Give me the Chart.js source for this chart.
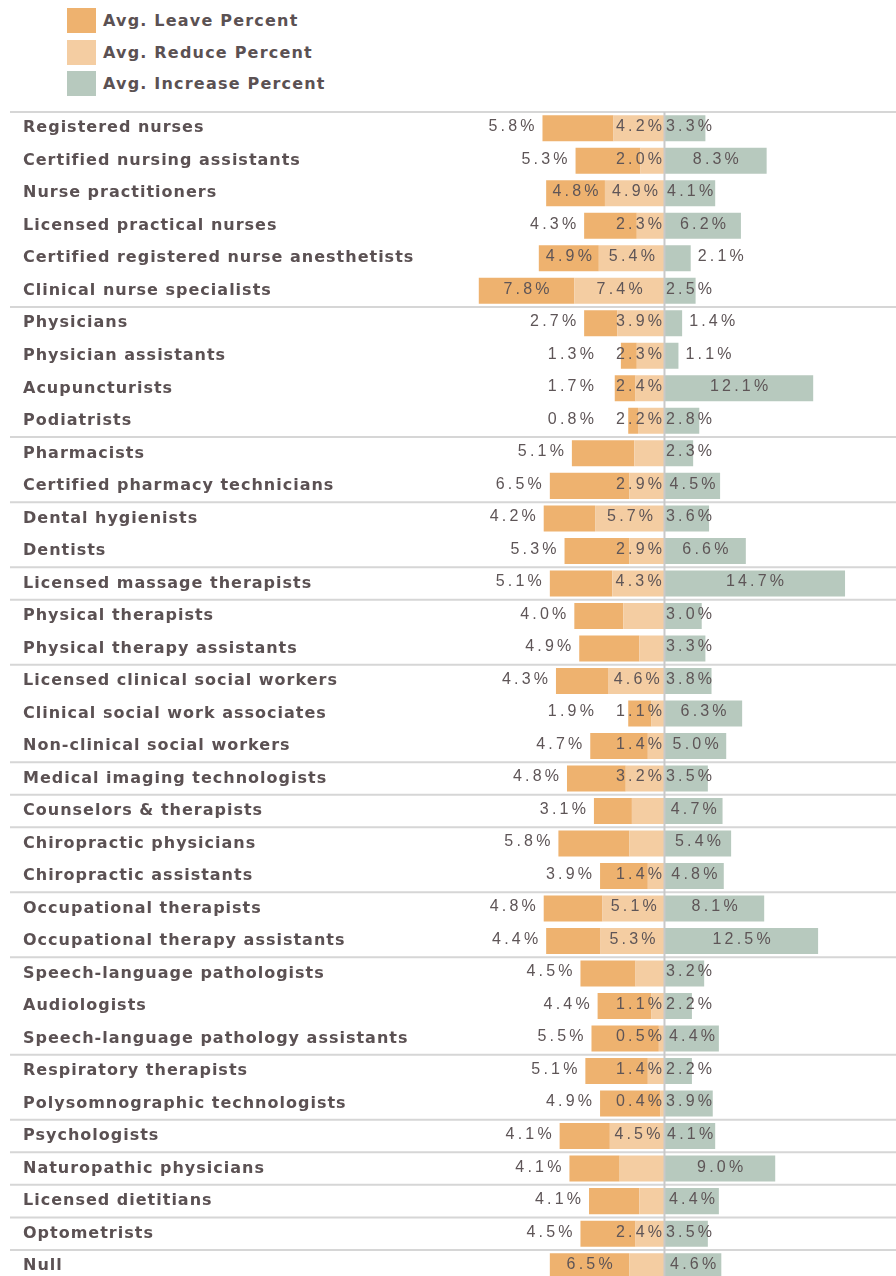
<!DOCTYPE html>
<html>
<head>
<meta charset="utf-8">
<script src="https://cdn.jsdelivr.net/npm/chart.js@4.4.1/dist/chart.umd.min.js"></script>
<style>
    body { margin: 0; background: #fff; overflow: hidden; }
    #legend { position: relative; height: 100px; font-family: "DejaVu Sans", sans-serif; }
    .legend-item { position: absolute; left: 67px; display: flex; align-items: center; font-size: 16px; font-weight: bold; letter-spacing: 1.2px; color: #5b5153; }
    .legend-item span.box { width: 29px; height: 25px; margin-right: 7px; display: inline-block; }
    canvas { display: block; }
</style>
</head>
<body>
<div id="legend"></div>
<canvas id="retentionChart" width="896" height="1192"></canvas>
<script>
const categories = [
    "Registered nurses", "Certified nursing assistants", "Nurse practitioners",
    "Licensed practical nurses", "Certified registered nurse anesthetists",
    "Clinical nurse specialists", "Physicians", "Physician assistants",
    "Acupuncturists", "Podiatrists", "Pharmacists", "Certified pharmacy technicians",
    "Dental hygienists", "Dentists", "Licensed massage therapists",
    "Physical therapists", "Physical therapy assistants",
    "Licensed clinical social workers", "Clinical social work associates",
    "Non-clinical social workers", "Medical imaging technologists",
    "Counselors & therapists", "Chiropractic physicians", "Chiropractic assistants",
    "Occupational therapists", "Occupational therapy assistants",
    "Speech-language pathologists", "Audiologists",
    "Speech-language pathology assistants", "Respiratory therapists",
    "Polysomnographic technologists", "Psychologists", "Naturopathic physicians",
    "Licensed dietitians", "Optometrists", "Null",
];

const leavePercent = [
    5.8, 5.3, 4.8, 4.3, 4.9, 7.8, 2.7, 1.3, 1.7, 0.8, 5.1, 6.5,
    4.2, 5.3, 5.1, 4.0, 4.9, 4.3, 1.9, 4.7, 4.8, 3.1, 5.8, 3.9,
    4.8, 4.4, 4.5, 4.4, 5.5, 5.1, 4.9, 4.1, 4.1, 4.1, 4.5, 6.5,
];
const reducePercent = [
    4.2, 2.0, 4.9, 2.3, 5.4, 7.4, 3.9, 2.3, 2.4, 2.2, 2.5, 2.9,
    5.7, 2.9, 4.3, 3.4, 2.1, 4.6, 1.1, 1.4, 3.2, 2.7, 2.9, 1.4,
    5.1, 5.3, 2.4, 1.1, 0.5, 1.4, 0.4, 4.5, 3.7, 2.1, 2.4, 2.9,
];
const increasePercent = [
    3.3, 8.3, 4.1, 6.2, 2.1, 2.5, 1.4, 1.1, 12.1, 2.8, 2.3, 4.5,
    3.6, 6.6, 14.7, 3.0, 3.3, 3.8, 6.3, 5.0, 3.5, 4.7, 5.4, 4.8,
    8.1, 12.5, 3.2, 2.2, 4.4, 2.2, 3.9, 4.1, 9.0, 4.4, 3.5, 4.6,
];

const seriesNames = ["Avg. Leave Percent", "Avg. Reduce Percent", "Avg. Increase Percent"];
const seriesColors = ["#eeb26f", "#f4cda2", "#b7c9be"];

// a line is drawn under each of these rows
const groupBreaksAfter = [
    "Clinical nurse specialists", "Podiatrists", "Certified pharmacy technicians",
    "Dentists", "Licensed massage therapists", "Physical therapy assistants",
    "Non-clinical social workers", "Medical imaging technologists",
    "Counselors & therapists", "Chiropractic assistants",
    "Occupational therapy assistants", "Speech-language pathology assistants",
    "Polysomnographic technologists", "Psychologists", "Naturopathic physicians",
    "Licensed dietitians", "Optometrists",
];

// label quirks of the original
const leaveLabelInside = [
    "Nurse practitioners", "Certified registered nurse anesthetists",
    "Clinical nurse specialists", "Null",
];
const reduceLabelHidden = [
    "Pharmacists", "Physical therapists", "Physical therapy assistants",
    "Counselors & therapists", "Chiropractic physicians",
    "Speech-language pathologists", "Naturopathic physicians",
    "Licensed dietitians", "Null",
];

const textColor = "#5b5153";
const labelFont = '"DejaVu Sans", sans-serif';
const valueFont = '"Liberation Sans", Arial, sans-serif';

// html legend
const legendDiv = document.getElementById("legend");
seriesNames.forEach((name, i) => {
    const item = document.createElement("div");
    item.className = "legend-item";
    item.style.top = (7 + i * 31.5) + "px";
    item.style.height = "27px";
    item.innerHTML = `<span class="box" style="background:${seriesColors[i]}"></span>${name}`;
    legendDiv.appendChild(item);
});

const fmt = (v) => v.toFixed(1) + "%";

const decorPlugin = {
    id: "decor",
    beforeDraw(chart) {
        chart.ctx.letterSpacing = "1px";
    },
    beforeDatasetsDraw(chart) {
        const ctx = chart.ctx;
        const y = chart.scales.y;
        ctx.save();
        ctx.strokeStyle = "#d6d6d6";
        ctx.lineWidth = 2;
        const half = (y.getPixelForValue(1) - y.getPixelForValue(0)) / 2;
        const lines = [y.getPixelForValue(0) - half];
        groupBreaksAfter.forEach((name) => {
            lines.push(y.getPixelForValue(categories.indexOf(name)) + half);
        });
        lines.forEach((py) => {
            ctx.beginPath();
            ctx.moveTo(10, py);
            ctx.lineTo(chart.width, py);
            ctx.stroke();
        });
        ctx.restore();
    },
    afterDatasetsDraw(chart) {
        const ctx = chart.ctx;
        const x0 = chart.scales.x.getPixelForValue(0);
        ctx.save();
        ctx.strokeStyle = "#c9c9c9";
        ctx.lineWidth = 2;
        ctx.beginPath();
        ctx.moveTo(x0 - 0.5, chart.chartArea.top);
        ctx.lineTo(x0 - 0.5, chart.chartArea.bottom);
        ctx.stroke();
        ctx.restore();
    },
    afterDraw(chart) {
        const ctx = chart.ctx;
        const spacing = 3.2;
        const x0 = chart.scales.x.getPixelForValue(0);
        const leaveMeta = chart.getDatasetMeta(0);
        const reduceMeta = chart.getDatasetMeta(1);
        const incMeta = chart.getDatasetMeta(2);
        ctx.save();
        ctx.font = "16px " + valueFont;
        ctx.letterSpacing = spacing + "px";
        ctx.fillStyle = "#5e5557";
        ctx.textAlign = "left";
        ctx.textBaseline = "middle";
        const width = (t) => ctx.measureText(t).width - spacing;

        categories.forEach((name, i) => {
            const leaveEl = leaveMeta.data[i];
            const reduceEl = reduceMeta.data[i];
            const incEl = incMeta.data[i];
            const py = leaveEl.y - 1.5;

            // reduce label: centred in its segment, kept left of the centre line
            let reduceLeft = null;
            if (!reduceLabelHidden.includes(name)) {
                const t = fmt(reducePercent[i]);
                const w = width(t);
                let left = (reduceEl.x + reduceEl.base) / 2 - w / 2;
                if (left + w > x0 - 3) left = x0 - 3 - w;
                ctx.fillText(t, left, py);
                reduceLeft = left;
            }

            // leave label
            const lt = fmt(leavePercent[i]);
            const lw = width(lt);
            if (leaveLabelInside.includes(name)) {
                ctx.fillText(lt, (leaveEl.x + leaveEl.base) / 2 - lw / 2, py);
            } else {
                let right = leaveEl.x - 8;
                if (reduceLeft !== null) right = Math.min(right, reduceLeft - 22);
                ctx.fillText(lt, right - lw, py);
            }

            // increase label
            const it = fmt(increasePercent[i]);
            const iw = width(it);
            let ileft;
            if (increasePercent[i] < 2.15) {
                ileft = incEl.x + 7;
            } else {
                ileft = Math.max(x0 + 1, (incEl.x + incEl.base) / 2 - iw / 2);
            }
            ctx.fillText(it, ileft, py);
        });
        ctx.restore();
    },
};

const ctx = document.getElementById("retentionChart").getContext("2d");

new Chart(ctx, {
    type: "bar",
    data: {
        labels: categories,
        datasets: [
            {
                label: seriesNames[0],
                data: leavePercent.map((v) => -v),
                backgroundColor: seriesColors[0],
                order: 2,
            },
            {
                label: seriesNames[1],
                data: reducePercent.map((v) => -v),
                backgroundColor: seriesColors[1],
                order: 1,
            },
            {
                label: seriesNames[2],
                data: increasePercent,
                backgroundColor: seriesColors[2],
                order: 3,
            },
        ],
    },
    options: {
        indexAxis: "y",
        responsive: false,
        animation: false,
        datasets: {
            bar: {
                categoryPercentage: 0.8,
                barPercentage: 1.0,
                borderWidth: 0,
            },
        },
        layout: {
            padding: { left: 23, top: 12, right: 0, bottom: 0 },
        },
        scales: {
            x: {
                stacked: true,
                display: false,
                min: -17.55,
                max: 18.86,
            },
            y: {
                stacked: true,
                grid: { display: false },
                border: { display: false },
                afterFit: (scale) => {
                    scale.width = 427;
                },
                ticks: {
                    autoSkip: false,
                    crossAlign: "far",
                    padding: 0,
                    color: textColor,
                    font: { family: labelFont, size: 16, weight: "bold" },
                },
            },
        },
        plugins: {
            legend: { display: false },
            tooltip: { enabled: false },
        },
    },
    plugins: [decorPlugin],
});
</script>
</body>
</html>
